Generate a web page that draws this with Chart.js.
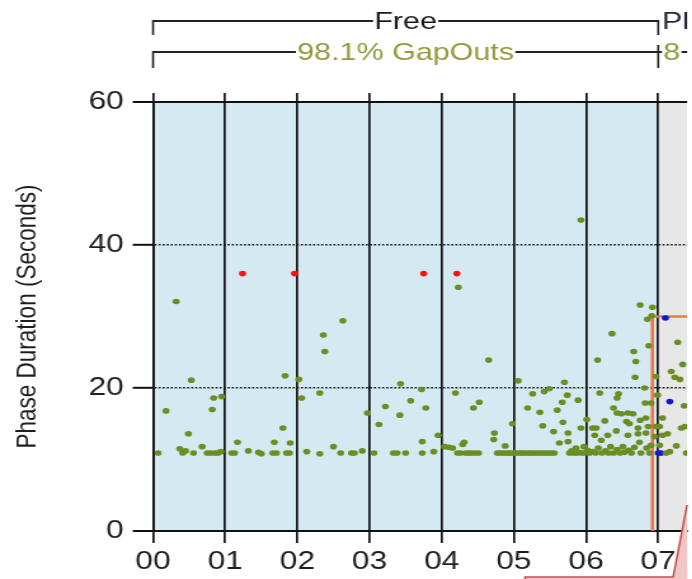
<!DOCTYPE html>
<html>
<head>
<meta charset="utf-8">
<script src="https://cdn.jsdelivr.net/npm/chart.js@4.4.1/dist/chart.umd.min.js"></script>
<style>
  html, body { margin: 0; padding: 0; background: #fff; overflow: hidden; }
  /* the source picture is a screenshot stretched sideways, so the canvas is too */
  #wrap { width: 545px; height: 579px; transform: scaleX(1.27); transform-origin: 0 0; }
</style>
</head>
<body>
<div id="wrap"><canvas id="phaseChart" width="545" height="579"></canvas></div>
<script>
// tick labels
const hourTicks = ['00', '01', '02', '03', '04', '05', '06', '07'];
const secondTicks = [0, 20, 40, 60];

// plans shown above the chart
const planNames = ['Free', 'Plan'];
const planStats = ['98.1% GapOuts', '8'];
const planStarts = [0, 7];

// [hour, seconds]
const gapOuts = [
  [0.07,10.9],[0.18,16.8],[0.32,32.1],[0.37,11.5],[0.41,10.9],[0.45,11.2],[0.49,13.6],[0.53,21.1],[0.56,10.9],
  [0.68,11.8],[0.75,10.9],[0.80,10.9],[0.82,17.0],[0.84,18.6],[0.86,10.9],[0.90,10.9],[0.94,11.1],[0.95,18.8],
  [1.09,10.9],[1.13,10.9],[1.17,12.4],[1.32,11.2],[1.46,11.0],[1.50,10.8],[1.66,10.9],[1.68,12.4],[1.71,10.9],
  [1.80,14.4],[1.83,21.7],[1.85,10.9],[1.89,10.9],[1.90,12.3],
  [2.02,21.2],[2.06,18.6],[2.13,11.1],[2.31,10.8],[2.31,19.3],[2.36,27.4],[2.38,25.1],[2.50,11.8],[2.60,10.9],
  [2.63,29.4],[2.75,10.9],[2.79,10.9],[2.90,11.2],[2.97,16.5],
  [3.06,10.9],[3.13,14.9],[3.22,17.4],[3.33,10.9],[3.38,10.9],[3.42,16.2],[3.43,20.6],[3.50,10.9],[3.57,18.2],
  [3.72,19.8],[3.73,12.5],[3.73,10.9],[3.78,17.2],[3.89,11.1],[3.95,13.4],
  [4.04,11.8],[4.10,11.7],[4.15,11.6],[4.19,19.3],[4.22,10.9],[4.23,34.1],[4.26,10.9],[4.29,12.1],[4.31,12.4],
  [4.33,10.9],[4.37,10.9],[4.41,10.9],[4.44,17.2],[4.46,10.9],[4.51,10.9],[4.52,18.0],[4.65,23.9],[4.72,12.8],
  [4.73,13.7],[4.77,10.9],[4.80,10.9],[4.84,10.9],[4.88,11.9],[4.88,10.9],[4.92,10.9],[4.95,10.9],[4.98,15.0],[4.99,10.9],
  [5.02,10.9],[5.06,21.0],[5.06,10.9],[5.10,10.9],[5.13,10.9],[5.17,10.9],[5.19,17.2],[5.21,10.9],[5.24,10.9],
  [5.26,19.2],[5.28,10.9],[5.32,10.9],[5.36,16.6],[5.36,10.9],[5.40,14.7],[5.40,10.9],[5.42,19.5],[5.44,10.9],
  [5.49,19.9],[5.48,10.9],[5.52,10.9],[5.55,13.9],[5.56,10.9],[5.60,16.9],[5.63,12.3],[5.67,18.0],[5.68,15.2],
  [5.70,20.8],[5.74,19.0],[5.75,13.7],[5.75,12.5],[5.77,10.9],[5.80,11.2],[5.83,10.9],[5.86,11.6],[5.87,10.9],
  [5.89,18.3],[5.90,11.0],[5.93,14.4],[5.93,43.5],[5.94,10.9],[5.97,11.8],[5.98,10.9],
  [6.01,15.6],[6.02,11.3],[6.05,10.9],[6.09,14.4],[6.09,11.1],[6.12,13.4],[6.13,10.9],[6.14,14.4],[6.16,23.9],
  [6.17,11.6],[6.19,19.3],[6.21,12.7],[6.22,10.9],[6.26,15.4],[6.27,11.2],[6.30,13.4],[6.31,10.9],[6.34,11.8],
  [6.36,27.6],[6.38,17.2],[6.38,10.9],[6.42,14.0],[6.43,18.6],[6.43,16.5],[6.43,11.4],[6.45,19.2],[6.47,10.9],
  [6.49,16.4],[6.51,11.8],[6.53,11.0],[6.56,15.3],[6.58,16.5],[6.58,13.4],[6.59,11.3],[6.60,15.0],[6.63,10.9],
  [6.65,16.4],[6.66,25.1],[6.67,11.7],[6.68,21.5],[6.69,23.7],[6.72,14.4],[6.72,13.6],[6.74,12.4],[6.75,15.5],
  [6.75,31.6],[6.76,10.9],[6.81,20.0],[6.82,17.9],[6.83,15.8],[6.83,13.7],[6.84,11.6],[6.85,29.6],[6.86,14.6],
  [6.87,25.9],[6.88,10.9],[6.90,12.0],[6.90,17.9],[6.91,30.1],[6.92,31.3],[6.95,13.2],[6.97,21.6],[6.97,14.6],[6.99,19.0],
  [7.02,12.0],[7.02,14.6],[7.06,15.8],[7.06,13.4],[7.11,10.9],[7.13,13.6],[7.16,11.1],[7.18,22.3],[7.23,21.5],
  [7.25,11.9],[7.27,26.4],[7.30,21.2],[7.32,14.4],[7.34,23.3],[7.36,17.5],[7.37,14.6],[7.39,10.9]
];
const maxOuts = [[1.24,36],[1.96,36],[3.75,36],[4.21,36]];
const forceOffs = [[7.10,29.8],[7.16,18.1],[7.00,10.9],[7.04,10.9]];
const splitLine = [[6.92,0],[6.92,30],[7.6,30]];

const BLACK = '#111';
const FONT = '"Liberation Sans", Arial, sans-serif';
const toXY = list => list.map(p => ({ x: p[0], y: p[1] }));

// coloured backgrounds for each plan
const planBackground = {
  id: 'planBackground',
  beforeDraw(chart) {
    const { ctx, chartArea: a, scales: { x } } = chart;
    const split = x.getPixelForValue(planStarts[1]);
    ctx.save();
    ctx.fillStyle = '#d5e9f2';
    ctx.fillRect(a.left, a.top, split - a.left, a.bottom - a.top);
    ctx.fillStyle = '#e7e7e7';
    ctx.fillRect(split, a.top, a.right - split, a.bottom - a.top);
    ctx.restore();
  }
};

function bracket(ctx, xa, xb, y, yEnd, label, color, baseY) {
  const mid = (xa + xb) / 2;
  const w = ctx.measureText(label).width;
  ctx.strokeStyle = '#222';
  ctx.lineWidth = 2;
  ctx.beginPath();
  ctx.moveTo(xa, y); ctx.lineTo(mid - w / 2 - 1, y);
  ctx.moveTo(mid + w / 2 + 1, y); ctx.lineTo(xb, y);
  ctx.stroke();
  ctx.lineWidth = 1.6;
  ctx.beginPath();
  ctx.moveTo(xa, y - 1); ctx.lineTo(xa, yEnd);
  ctx.moveTo(xb, y - 1); ctx.lineTo(xb, yEnd);
  ctx.stroke();
  ctx.fillStyle = color;
  ctx.textAlign = 'center';
  ctx.fillText(label, mid, baseY);
}

// plan brackets on top + the red callout at the bottom
const planLabels = {
  id: 'planLabels',
  afterDraw(chart) {
    const { ctx, chartArea: a, scales: { x } } = chart;
    const x0 = x.getPixelForValue(planStarts[0]);
    const x1 = x.getPixelForValue(planStarts[1]);
    ctx.save();
    ctx.beginPath(); ctx.rect(0, 0, a.right, chart.height); ctx.clip();
    ctx.font = '24px ' + FONT;
    ctx.textBaseline = 'alphabetic';
    bracket(ctx, x0, x1, 21, 35, planNames[0], '#1a1a1a', 29);
    bracket(ctx, x0, x1, 52, 68, planStats[0], '#929a3e', 60);

    ctx.textAlign = 'left';
    ctx.fillStyle = '#2a2838';
    ctx.fillText(planNames[1], x1 + 3, 29);
    ctx.fillStyle = '#929a3e';
    ctx.fillText(planStats[1], x1 + 4, 60);
    const w8 = ctx.measureText(planStats[1]).width;
    ctx.strokeStyle = '#222';
    ctx.lineWidth = 2;
    ctx.beginPath();
    ctx.moveTo(x1, 52); ctx.lineTo(x1 + 3, 52);
    ctx.moveTo(x1 + 5 + w8, 52); ctx.lineTo(a.right + 5, 52);
    ctx.stroke();
    ctx.lineWidth = 1.6;
    ctx.beginPath();
    ctx.moveTo(x1, 45); ctx.lineTo(x1, 52);
    ctx.stroke();
    ctx.restore();

    // callout
    ctx.save();
    ctx.beginPath();
    ctx.moveTo(413.4, 580); ctx.lineTo(413.4, 577); ctx.lineTo(530, 577);
    ctx.lineTo(541, 505); ctx.lineTo(541, 580); ctx.closePath();
    ctx.fillStyle = '#f0c6c6';
    ctx.fill();
    ctx.beginPath();
    ctx.moveTo(413.4, 580); ctx.lineTo(413.4, 577); ctx.lineTo(530, 577); ctx.lineTo(541, 505);
    ctx.strokeStyle = '#c0504d';
    ctx.lineWidth = 1.5;
    ctx.stroke();
    ctx.restore();
  }
};

const dot = (data, color) => ({
  type: 'scatter', data: toXY(data), backgroundColor: color, borderWidth: 0,
  pointRadius: 2.8, pointHoverRadius: 2.8, order: 1
});

new Chart(document.getElementById('phaseChart'), {
  type: 'scatter',
  data: {
    datasets: [
      dot(gapOuts, '#6b8e23'),
      dot(maxOuts, '#ff1010'),
      dot(forceOffs, '#1515d0'),
      {
        type: 'line', data: toXY(splitLine), borderColor: '#e8794a', borderWidth: 2.6,
        pointRadius: 0, fill: false, tension: 0, order: 5
      }
    ]
  },
  options: {
    responsive: false,
    animation: false,
    layout: { padding: { top: 93, right: 4, bottom: 0, left: 0 } },
    plugins: { legend: { display: false }, tooltip: { enabled: false } },
    scales: {
      x: {
        type: 'linear', position: 'bottom', min: 0, max: 7.4,
        ticks: {
          stepSize: 1, includeBounds: false, autoSkip: false, maxRotation: 0, padding: 4,
          color: '#1e1e1e', font: { family: FONT, size: 25 },
          callback: v => hourTicks[v]
        },
        grid: { color: BLACK, lineWidth: 1.7, tickLength: 12, tickWidth: 1.7 },
        border: { display: true, color: BLACK, width: 2 },
        afterFit: s => { s.height = 48; }
      },
      xTop: {
        type: 'linear', position: 'top', min: 0, max: 7.4,
        ticks: { stepSize: 1, includeBounds: false, display: false },
        grid: { drawOnChartArea: false, color: BLACK, lineWidth: 1.7, tickLength: 9 },
        border: { display: false },
        afterFit: s => { s.height = 9; }
      },
      y: {
        min: secondTicks[0], max: secondTicks[secondTicks.length - 1],
        afterBuildTicks: s => { s.ticks = secondTicks.map(v => ({ value: v })); },
        ticks: { padding: 7, color: '#1e1e1e', font: { family: FONT, size: 25 } },
        grid: {
          color: BLACK,
          lineWidth: c => (c.tick && c.tick.value % 60 === 0 ? 2 : 1.6),
          tickLength: 16, tickWidth: 2
        },
        border: {
          display: true, color: BLACK, width: 1.7,
          dash: c => (c.tick && c.tick.value % 60 !== 0 ? [1.6, 1.6] : [])
        },
        title: {
          display: true, text: 'Phase Duration (Seconds)', color: '#1e1e1e',
          font: { family: FONT, size: 22.5 }, padding: { top: 8, bottom: 0 }
        },
        afterFit: s => { s.width = 120.5; }
      }
    }
  },
  plugins: [planBackground, planLabels]
});
</script>
</body>
</html>
